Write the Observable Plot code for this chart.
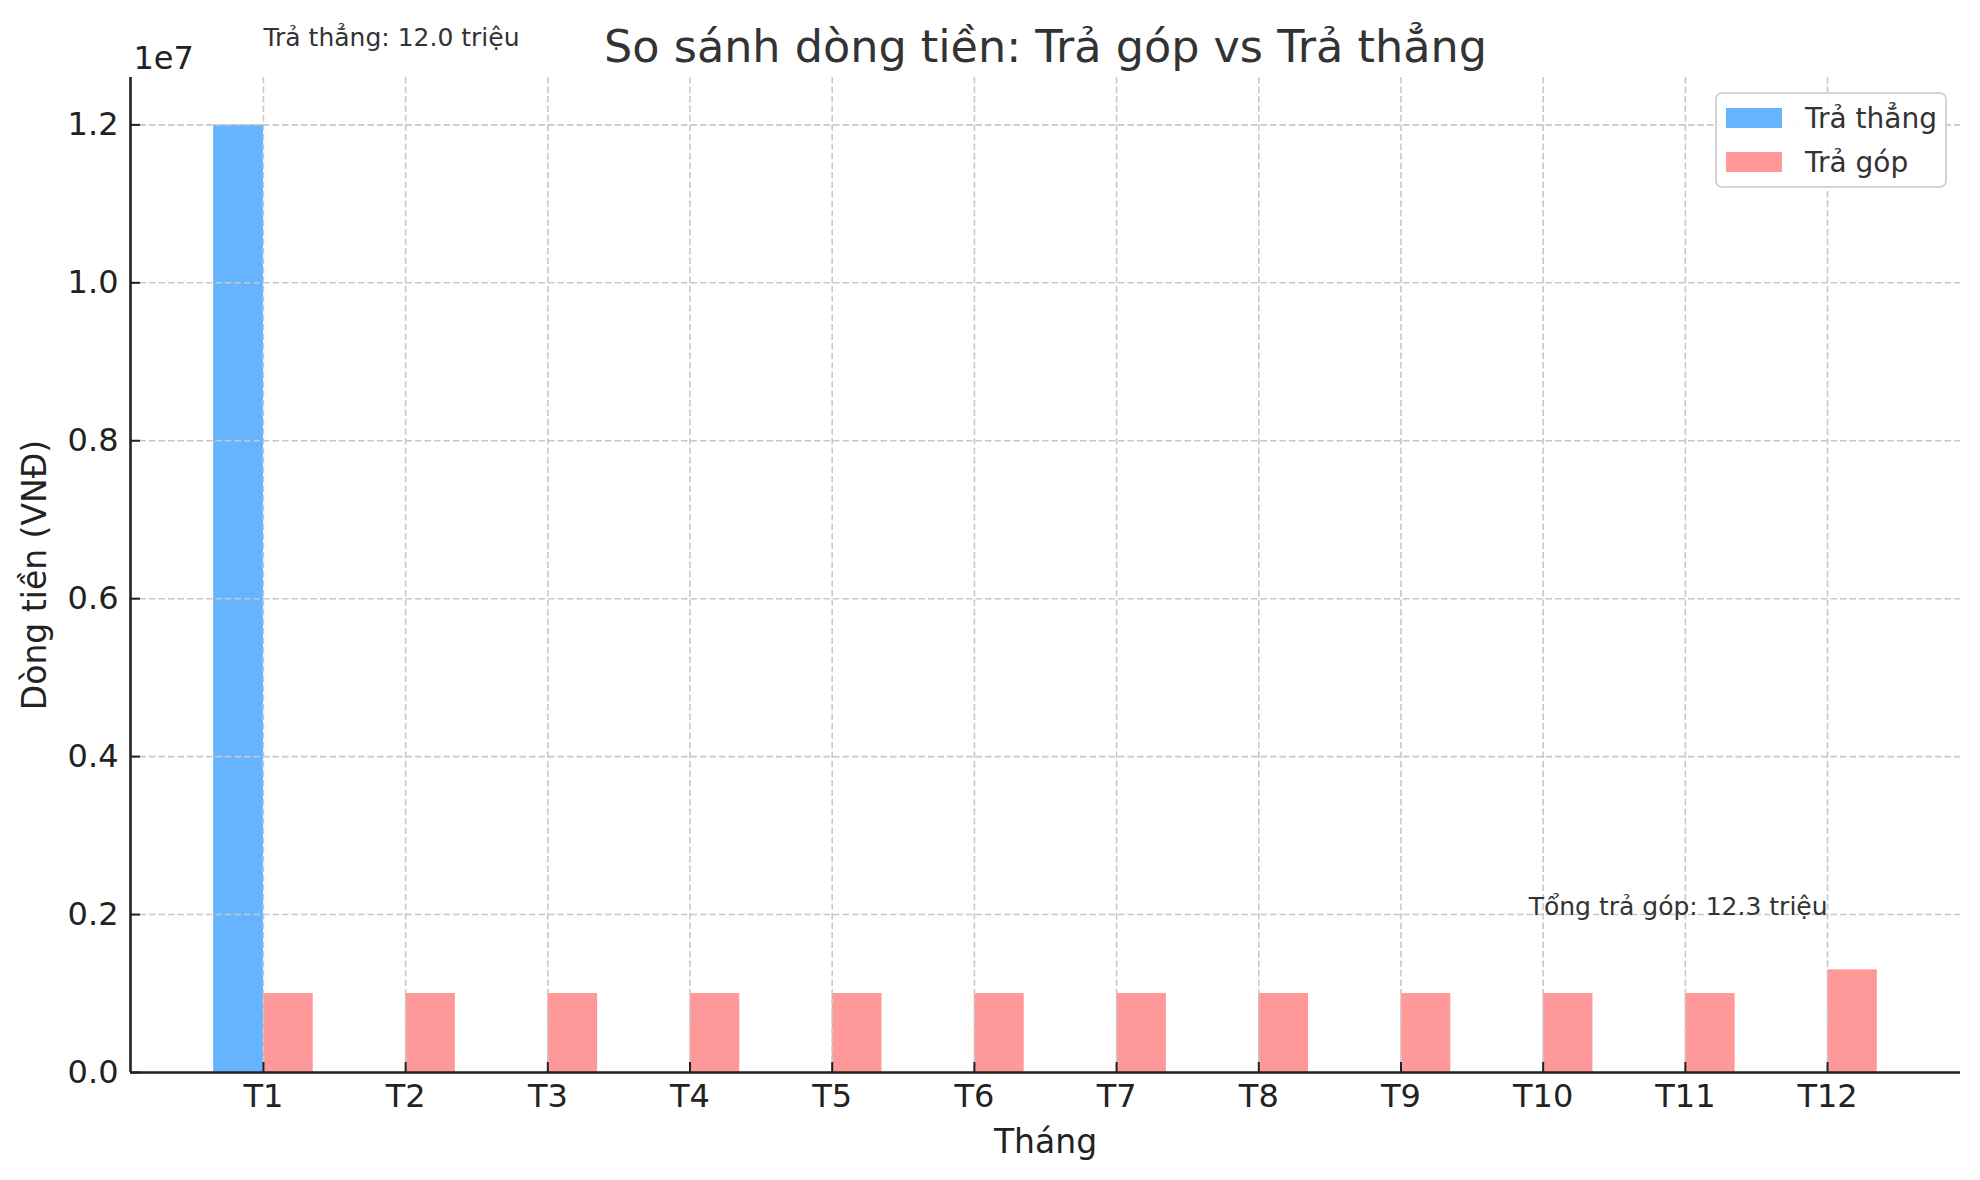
<!DOCTYPE html>
<html>
<head>
<meta charset="utf-8">
<script src="https://cdn.jsdelivr.net/npm/d3@7"></script>
<script src="https://cdn.jsdelivr.net/npm/@observablehq/plot@0.6"></script>
<style>
  html, body { margin: 0; padding: 0; background: white; }
  #wrap { position: relative; width: 1980px; height: 1180px; font-family: "DejaVu Sans", sans-serif; }
  #legend { position: absolute; left: 1714px; top: 91px; }
</style>
</head>
<body>
<div id="wrap"></div>
<script>
// ---- data ----
const months = ["T1","T2","T3","T4","T5","T6","T7","T8","T9","T10","T11","T12"];
const traThang = [12000000, 0, 0, 0, 0, 0, 0, 0, 0, 0, 0, 0];
const traGop = [1000000, 1000000, 1000000, 1000000, 1000000, 1000000, 1000000, 1000000, 1000000, 1000000, 1000000, 1300000];
const yTicks = [0, 2000000, 4000000, 6000000, 8000000, 10000000, 12000000];
const seriesNames = ["Trả thẳng", "Trả góp"];
const seriesColors = ["#66b3ff", "#ff9999"];
const titleText = "So sánh dòng tiền: Trả góp vs Trả thẳng";
const xLabel = "Tháng";
const yLabel = "Dòng tiền (VNĐ)";
const noteThang = "Trả thẳng: 12.0 triệu";
const noteGop = "Tổng trả góp: 12.3 triệu";

const rows = months.map((m, i) => ({i, month: m, thang: traThang[i], gop: traGop[i]}));
const xIdx = months.map((m, i) => i);
const barW = 0.35;
const xDomain = [-barW - 0.05 * (months.length - 1 + 2 * barW), months.length - 1 + barW + 0.05 * (months.length - 1 + 2 * barW)];
const yMax = d3.max(traThang.concat(traGop)) * 1.05;

const gridStyle = {stroke: "#c8c8c8", strokeOpacity: 1, strokeWidth: 1.6, strokeDasharray: "6.5,3"};
const ink = "#222";

const chart = Plot.plot({
  width: 1980,
  height: 1180,
  marginLeft: 130,
  marginRight: 20,
  marginTop: 77,
  marginBottom: 108,
  style: {fontFamily: "DejaVu Sans", background: "white", color: ink},
  x: {type: "linear", domain: xDomain},
  y: {domain: [0, yMax]},
  marks: [
    Plot.rect(rows.filter(d => d.thang > 0), {x1: d => d.i - barW, x2: "i", y1: 0, y2: "thang", fill: seriesColors[0]}),
    Plot.rect(rows, {x1: "i", x2: d => d.i + barW, y1: 0, y2: "gop", fill: seriesColors[1]}),
    Plot.gridX(xIdx, gridStyle),
    Plot.gridY(yTicks, gridStyle),
    // inward ticks
    Plot.axisX(xIdx, {tickSize: -10, fill: "none", stroke: ink, strokeWidth: 2, label: null}),
    Plot.axisY(yTicks, {tickSize: -10, fill: "none", stroke: ink, strokeWidth: 2, label: null}),
    // tick labels
    Plot.axisX(xIdx, {tickSize: 0, tickPadding: 12, tickFormat: i => months[i], fontSize: 32, fill: ink, label: null}),
    Plot.axisY(yTicks, {tickSize: 0, tickPadding: 12, tickFormat: v => (v / 1e7).toFixed(1), fontSize: 32, fill: ink, label: null}),
    // spines
    Plot.ruleY([0], {stroke: ink, strokeWidth: 2.6}),
    Plot.ruleX([xDomain[0]], {stroke: ink, strokeWidth: 2.6}),
    // annotations
    Plot.text([noteThang], {x: 0, y: traThang[0] + 1000000, text: d => d, textAnchor: "start", lineAnchor: "bottom", fontSize: 25, fill: "#333"}),
    Plot.text([noteGop], {x: months.length - 1, y: d3.max(traGop) + 700000, text: d => d, textAnchor: "end", lineAnchor: "bottom", fontSize: 25, fill: "#333"}),
    // title, offset, axis labels
    Plot.text([titleText], {frameAnchor: "top", dy: -16, text: d => d, textAnchor: "middle", lineAnchor: "bottom", fontSize: 44.5, fill: "#333"}),
    Plot.text(["1e7"], {frameAnchor: "top-left", dx: 3, dy: -9, text: d => d, textAnchor: "start", lineAnchor: "bottom", fontSize: 32, fill: ink}),
    Plot.text([xLabel], {frameAnchor: "bottom", dy: 80, text: d => d, textAnchor: "middle", lineAnchor: "bottom", fontSize: 33, fill: ink}),
    Plot.text([yLabel], {frameAnchor: "left", dx: -95, rotate: -90, text: d => d, textAnchor: "middle", lineAnchor: "middle", fontSize: 33, fill: ink})
  ]
});

const wrap = document.getElementById("wrap");
wrap.appendChild(chart);

// legend
const leg = d3.select(wrap).append("svg")
  .attr("id", "legend")
  .attr("width", 236).attr("height", 100)
  .style("font-family", "DejaVu Sans");
leg.append("rect").attr("x", 2).attr("y", 2).attr("width", 230).attr("height", 94)
  .attr("rx", 6).attr("fill", "white").attr("fill-opacity", 0.9)
  .attr("stroke", "#d4d4d4").attr("stroke-width", 2);
seriesNames.forEach((name, k) => {
  const by = 17 + k * 44;
  leg.append("rect").attr("x", 12).attr("y", by).attr("width", 56).attr("height", 20).attr("fill", seriesColors[k]);
  leg.append("text").attr("x", 91).attr("y", by + 20).attr("font-size", 28).attr("fill", "#333").text(name);
});
</script>
</body>
</html>
